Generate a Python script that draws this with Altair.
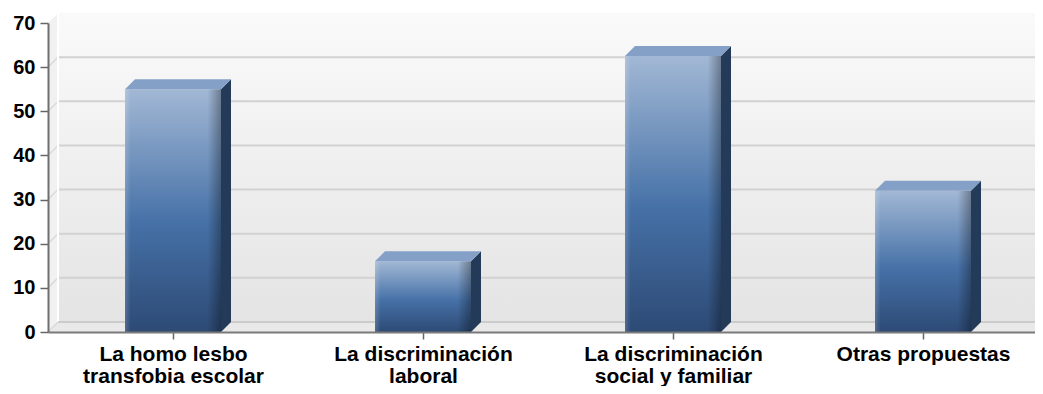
import json
import altair as alt
import pandas as pd

# ---------------- data ----------------
categories = ["La homo lesbo transfobia escolar", "La discriminación laboral",
              "La discriminación social y familiar", "Otras propuestas"]
label_lines = [["La homo lesbo", "transfobia escolar"],
               ["La discriminación", "laboral"],
               ["La discriminación", "social y familiar"],
               ["Otras propuestas"]]
values = [55, 16, 62.5, 32]
y_ticks = [0, 10, 20, 30, 40, 50, 60, 70]
grid_ticks = [0, 10, 20, 30, 40, 50, 60]

# ---------------- geometry / style ----------------
W, H = 987, 309
X_MIN = -0.5
X_MAX = X_MIN + W / 250.0
Y_MIN, Y_MAX = 0, 70
DEPTH = 10  # px of 3-D depth
DX = DEPTH * (X_MAX - X_MIN) / W
DY = DEPTH * (Y_MAX - Y_MIN) / H
HW = 0.192  # half bar width in category units

xs = alt.Scale(domain=[X_MIN, X_MAX], nice=False, zero=False, padding=0)
ys = alt.Scale(domain=[Y_MIN, Y_MAX], nice=False, zero=False, padding=0)

label_expr = json.dumps(label_lines, ensure_ascii=False) + "[datum.value]"
x_axis = alt.Axis(values=[0, 1, 2, 3], labelExpr=label_expr, title=None, grid=False,
                  labelFont="Liberation Sans", labelFontWeight="bold", labelFontSize=21,
                  labelLineHeight=22, labelColor="#000000", labelPadding=4, labelLimit=0,
                  tickSize=7, tickColor="#666666", tickWidth=1.5,
                  domainColor="#7a7a7a", domainWidth=2, zindex=1, labelFlush=False,
                  labelOverlap=False)
y_axis = alt.Axis(values=y_ticks, title=None, grid=False,
                  labelFont="Liberation Sans", labelFontWeight="bold", labelFontSize=20,
                  labelColor="#000000", labelPadding=5, tickSize=8, tickColor="#666666",
                  tickWidth=1.5, domainColor="#6f6f6f", domainWidth=2, zindex=1)


def X(field):
    return alt.X(field, type="quantitative", scale=xs, axis=x_axis)


def Y(field):
    return alt.Y(field, type="quantitative", scale=ys, axis=y_axis)


# back wall
wall_df = pd.DataFrame({"x": [X_MIN + DX], "x2": [X_MAX + DX], "y": [Y_MIN + DY], "y2": [Y_MAX + DY]})
wall = alt.Chart(wall_df).mark_rect(
    fill=alt.Gradient(gradient="linear", x1=0, x2=0, y1=0, y2=1,
                      stops=[alt.GradientStop(offset=0, color="#fafafa"),
                             alt.GradientStop(offset=1, color="#e4e4e4")])
).encode(x=X("x"), x2="x2:Q", y=Y("y"), y2="y2:Q")

# left wall
lw_df = pd.DataFrame({"x": [X_MIN, X_MIN + DX], "lo": [Y_MIN, Y_MIN + DY], "hi": [Y_MAX, Y_MAX + DY]})
left_wall = alt.Chart(lw_df).mark_area(color="#f1f1f1", opacity=1).encode(
    x=X("x"), y=Y("lo"), y2="hi:Q")

# floor
fl_df = pd.DataFrame({"x": [X_MIN, X_MIN + DX, X_MAX, X_MAX + DX],
                      "lo": [0, 0, 0, DY], "hi": [0, DY, DY, DY]})
floor = alt.Chart(fl_df).mark_area(color="#e9e9e9", opacity=1).encode(
    x=X("x"), y=Y("lo"), y2="hi:Q")

# grid on back wall
grid_df = pd.DataFrame({"t": grid_ticks})
grid_df["yb"] = grid_df["t"] + DY
grid_df["xa"] = X_MIN + DX
grid_df["xb"] = X_MAX + DX
grid_df["xl"] = X_MIN
grid_back = alt.Chart(grid_df).mark_rule(color="#d2d2d2", strokeWidth=2).encode(
    x=X("xa"), x2="xb:Q", y=Y("yb"))
grid_side = alt.Chart(grid_df).mark_rule(color="#dadada", strokeWidth=1.5).encode(
    x=X("xl"), x2="xa:Q", y=Y("t"), y2="yb:Q")

# left wall inner edge
edge_df = pd.DataFrame({"x": [X_MIN + DX], "lo": [DY], "hi": [Y_MAX + DY]})
wall_edge = alt.Chart(edge_df).mark_rule(color="#ffffff", strokeWidth=2).encode(
    x=X("x"), y=Y("lo"), y2="hi:Q")
floor_back = alt.Chart(pd.DataFrame({"x": [X_MIN + DX], "x2": [X_MAX + DX], "y": [DY]})).mark_rule(
    color="#c8c8c8", strokeWidth=1.5).encode(x=X("x"), x2="x2:Q", y=Y("y"))

# bars
bars_df = pd.DataFrame({"cat": categories, "i": range(len(values)), "v": values})
bars_df["x1"] = bars_df["i"] - HW
bars_df["x2"] = bars_df["i"] + HW
bars_df["zero"] = 0
front = alt.Chart(bars_df).mark_rect(
    fill=alt.Gradient(gradient="linear", x1=0, x2=0, y1=0, y2=1,
                      stops=[alt.GradientStop(offset=0, color="#a2b8d5"),
                             alt.GradientStop(offset=0.55, color="#4671a7"),
                             alt.GradientStop(offset=1, color="#2d4a75")])
).encode(x=X("x1"), x2="x2:Q", y=Y("zero"), y2="v:Q")
shade = alt.Chart(bars_df).mark_rect(
    fill=alt.Gradient(gradient="linear", x1=0, x2=1, y1=0, y2=0,
                      stops=[alt.GradientStop(offset=0, color="rgba(255,255,255,0.18)"),
                             alt.GradientStop(offset=0.06, color="rgba(255,255,255,0)"),
                             alt.GradientStop(offset=0.86, color="rgba(0,0,0,0)"),
                             alt.GradientStop(offset=1, color="rgba(0,0,0,0.32)")])
).encode(x=X("x1"), x2="x2:Q", y=Y("zero"), y2="v:Q")

side_rows, top_rows = [], []
for i, v in enumerate(values):
    side_rows += [{"b": i, "x": i + HW, "lo": 0, "hi": v},
                  {"b": i, "x": i + HW + DX, "lo": DY, "hi": v + DY}]
    top_rows += [{"b": i, "x": i - HW, "lo": v, "hi": v},
                 {"b": i, "x": i - HW + DX, "lo": v, "hi": v + DY},
                 {"b": i, "x": i + HW, "lo": v, "hi": v + DY},
                 {"b": i, "x": i + HW + DX, "lo": v + DY, "hi": v + DY}]
side = alt.Chart(pd.DataFrame(side_rows)).mark_area(color="#233a59", opacity=1).encode(
    x=X("x"), y=Y("lo"), y2="hi:Q", detail="b:N")
top = alt.Chart(pd.DataFrame(top_rows)).mark_area(color="#84a0c6", opacity=1).encode(
    x=X("x"), y=Y("lo"), y2="hi:Q", detail="b:N")

chart = alt.layer(
    wall, left_wall, floor, grid_back, grid_side, wall_edge, floor_back,
    front, shade, side, top
).properties(
    width=W, height=H,
    autosize=alt.AutoSizeParams(type="none"),
    padding={"left": 40, "top": 15, "right": 0, "bottom": 54},
    background="#ffffff"
).configure_view(stroke=None)

chart.save("out.html", embed_options={"renderer": "svg", "actions": False})
